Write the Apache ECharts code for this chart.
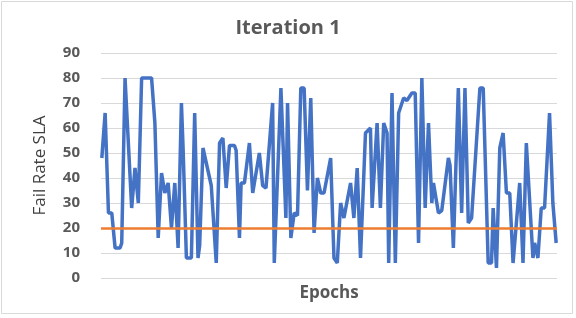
<!DOCTYPE html>
<html><head><meta charset="utf-8">
<script src="https://cdn.jsdelivr.net/npm/echarts@6/dist/echarts.min.js"></script>
<style>html,body{margin:0;padding:0;background:#fff}#c{width:576px;height:318px}</style>
</head><body><div id="c"></div>
<script>
const epochs = [1,3,5,7,9,12,13,15,19,21,22,23,25,31,33,35,37,39,41,43,45,46,47,49,50,52,55,57,59,60,62,67,70,72,74,76,78,81,82,84,85,87,90,92,96,98,100,104,105,109,112,113,115,117,119,121,123,125,127,129,131,133,135,139,141,143,145,147,151,153,155,157,160,163,164,167,169,171,173,174,176,178,180,183,185,188,190,192,194,196,198,200,201,203,204,206,210,211,213,216,218,220,222,224,229,231,234,236,237,239,241,243,245,247,249,253,255,257,261,262,264,266,268,271,273,275];
const failRate = [48,66,26,26,12,12,14,80,28,44,44,30,80,80,62,16,42,34,38,20,38,38,12,70,52,8,8,66,8,13,52,37,6,54,56,36,53,53,51,16,38,38,54,34,50,37,36,70,6,76,24,70,16,26,25,76,76,35,72,18,40,34,34,48,8,6,30,24,38,24,44,8,58,60,28,62,28,62,58,6,74,6,66,72,71,74,74,14,80,28,62,30,38,30,26,27,48,45,12,76,26,76,22,24,76,76,6,6,28,4,52,58,34,34,6,38,6,54,8,14,8,28,28,66,30,14];
const slaThreshold = 20;
const yTicks = [0,10,20,30,40,50,60,70,80,90];
const totalEpochs = 275;

const chart = echarts.init(document.getElementById('c'));
chart.setOption({
  animation: false,
  backgroundColor: '#fff',
  title: { text: 'Iteration 1', left: 'center', top: 13,
    textStyle: { fontFamily: 'Open Sans', fontSize: 20, fontWeight: 'bold', color: '#595959' } },
  graphic: [{ type: 'rect', shape: { x: 1.5, y: 1.5, width: 571, height: 312 },
    style: { fill: 'none', stroke: '#d9d9d9', lineWidth: 1 } }],
  grid: { left: 101, right: 19, top: 53, bottom: 40 },
  xAxis: { type: 'value', min: 0.5, max: totalEpochs + 0.5,
    name: 'Epochs', nameLocation: 'middle', nameGap: 7,
    nameTextStyle: { fontFamily: 'Open Sans', fontSize: 17, fontWeight: 'bold', color: '#595959', verticalAlign: 'top' },
    axisLine: { show: false }, axisTick: { show: false }, axisLabel: { show: false }, splitLine: { show: false } },
  yAxis: { type: 'value', min: 0, max: 90, interval: 10,
    name: 'Fail Rate SLA', nameLocation: 'middle', nameGap: 52,
    nameTextStyle: { fontFamily: 'Open Sans', fontSize: 17, color: '#404040' },
    axisLine: { show: false }, axisTick: { show: false },
    axisLabel: { margin: 21, fontFamily: 'Open Sans', fontSize: 15, fontWeight: 'bold', color: '#595959',
      formatter: v => yTicks.includes(v) ? String(v) : '' },
    splitLine: { lineStyle: { color: '#d9d9d9', width: 1 } } },
  series: [{
    type: 'line', data: epochs.map((e, i) => [e, failRate[i]]),
    showSymbol: false, lineStyle: { color: '#4472C4', width: 3.5 }, itemStyle: { color: '#4472C4' },
    markLine: { silent: true, symbol: 'none', label: { show: false },
      lineStyle: { color: '#ED7D31', width: 2.5, type: 'solid' },
      data: [{ yAxis: slaThreshold }] }
  }]
});
</script></body></html>
